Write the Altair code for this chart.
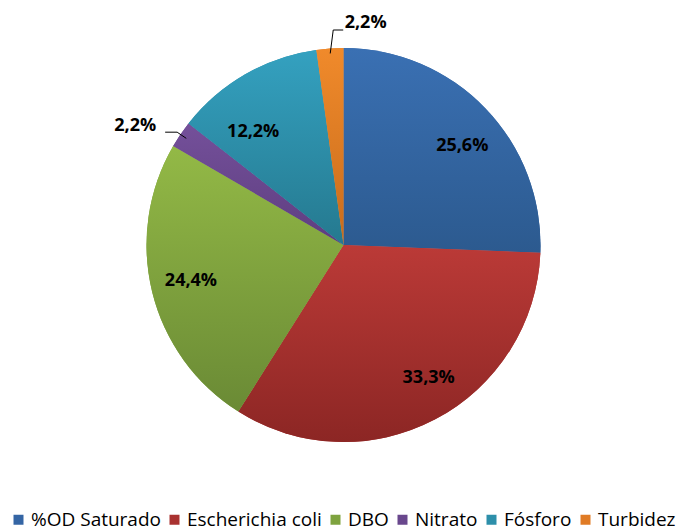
import math
import altair as alt
import pandas as pd

categories = ["%OD Saturado", "Escherichia coli", "DBO", "Nitrato", "Fósforo", "Turbidez"]
values = [25.6, 33.3, 24.4, 2.2, 12.2, 2.2]
labels = ["25,6%", "33,3%", "24,4%", "2,2%", "12,2%", "2,2%"]
mid_colors = ["#3465a4", "#a93230", "#7ea33f", "#69478d", "#2d8faa", "#e07b25"]
top_colors = ["#3a70b3", "#bb3a37", "#93b946", "#74509a", "#34a1c0", "#f08a2b"]
bottom_colors = ["#2c5a8f", "#8c2624", "#6a8a35", "#5e3e80", "#25798f", "#c86c1c"]

W, H = 671, 474
R = 197
FONT = "Open Sans"

total = sum(values)
starts, ends = [], []
acc = 0.0
for v in values:
    starts.append(acc)
    acc += v
    ends.append(acc)
df = pd.DataFrame({
    "category": categories,
    "value": values,
    "label": labels,
    "start": starts,
    "end": ends,
})
df["mid"] = (df["start"] + df["end"]) / 2

theta_scale = alt.Scale(domain=[0, total])

base = alt.Chart(df).mark_arc(outerRadius=R).encode(
    theta=alt.Theta("start:Q", scale=theta_scale),
    theta2="end:Q",
    color=alt.Color(
        "category:N",
        scale=alt.Scale(domain=categories, range=mid_colors),
        sort=categories,
        legend=alt.Legend(
            title=None,
            orient="none",
            direction="horizontal",
            legendX=1,
            legendY=502,
            symbolType="square",
            symbolSize=100,
            symbolStrokeWidth=0,
            labelFont=FONT,
            labelFontSize=19,
            labelColor="#000000",
            labelOffset=3,
            columnPadding=4,
        ),
    ),
)

layers = [base]
for i, cat in enumerate(categories):
    grad = alt.Gradient(
        gradient="linear",
        stops=[
            alt.GradientStop(color=top_colors[i], offset=0),
            alt.GradientStop(color=bottom_colors[i], offset=1),
        ],
        x1=0, x2=0, y1=0, y2=1,
    )
    layers.append(
        alt.Chart(df[df["category"] == cat]).mark_arc(outerRadius=R, fill=grad).encode(
            theta=alt.Theta("start:Q", scale=theta_scale),
            theta2="end:Q",
        )
    )


def label_layer(cat, radius, dx=0, dy=0):
    return alt.Chart(df[df["category"] == cat]).mark_text(
        radius=radius, dx=dx, dy=dy, font=FONT, fontSize=18,
        fontWeight="bold", color="#000000",
    ).encode(
        theta=alt.Theta("mid:Q", scale=theta_scale),
        text="label:N",
    )


layers += [
    label_layer("%OD Saturado", 155, 7, 8),
    label_layer("Escherichia coli", 155, 13, -4),
    label_layer("DBO", 155, -2, -1),
    label_layer("Fósforo", 155, -13, 21),
    label_layer("Nitrato", 242, -8, 17),
    label_layer("Turbidez", 215, 37, -8),
]

# leader lines derived from the slice mid angles
cx, cy = W / 2, H / 2
rows = []
a = float(df.loc[df["category"] == "Nitrato", "mid"].iloc[0]) / total * 2 * math.pi
p0 = (cx + 190 * math.sin(a), cy - 190 * math.cos(a))
p1 = (cx + 201 * math.sin(a), cy - 201 * math.cos(a))
p2 = (p1[0] - 12, p1[1])
for k, p in enumerate([p0, p1, p2]):
    rows.append({"grp": "n", "ord": k, "x": p[0], "y": p[1]})
a = float(df.loc[df["category"] == "Turbidez", "mid"].iloc[0]) / total * 2 * math.pi
q0 = (cx + 192 * math.sin(a), cy - 192 * math.cos(a))
q1 = (q0[0] + 3, cy - 215)
q2 = (q1[0] + 10, q1[1])
for k, p in enumerate([q0, q1, q2]):
    rows.append({"grp": "t", "ord": k, "x": p[0], "y": p[1]})
lead = pd.DataFrame(rows)

leaders = alt.Chart(lead).mark_line(color="#000000", strokeWidth=1).encode(
    x=alt.X("x:Q", scale=None, axis=None),
    y=alt.Y("y:Q", scale=None, axis=None),
    detail="grp:N",
    order="ord:Q",
)
layers.append(leaders)

chart = alt.layer(*layers).properties(
    width=W,
    height=H,
    autosize=alt.AutoSizeParams(type="none"),
    padding={"left": 0, "top": 0, "right": 0, "bottom": 50},
).configure(
    background="#ffffff",
    view=alt.ViewConfig(stroke=None),
)

chart.save("out.html", embed_options={"renderer": "svg", "actions": False})
